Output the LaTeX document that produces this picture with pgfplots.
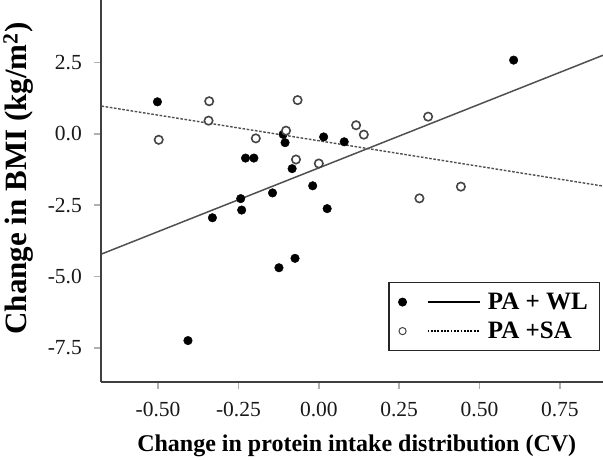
\documentclass[border=0pt]{standalone}
\usepackage{fontspec}
\setmainfont{Liberation Serif}
\usepackage{pgfplots}
\pgfplotsset{compat=1.18}
\definecolor{axisgrey}{HTML}{404040}
\definecolor{tickgrey}{HTML}{B0B0B0}
\definecolor{linegrey}{HTML}{505050}
\definecolor{opengrey}{HTML}{454545}
\begin{document}
\begin{tikzpicture}
\useasboundingbox (-101.5pt,-77.5pt) rectangle (501.5pt,381.5pt);
\begin{axis}[
  scale only axis,
  width=501.5pt, height=381.5pt,
  xmin=-0.676, xmax=0.884,
  ymin=-8.673, ymax=4.685,
  axis x line*=bottom, axis y line*=left,
  axis line style={color=axisgrey, line width=2pt},
  tick align=outside,
  major tick length=7pt,
  every tick/.style={color=tickgrey, line width=1.5pt},
  xtick={-0.5,-0.25,0,0.25,0.5,0.75},
  xticklabels={-0.50,-0.25,0.00,0.25,0.50,0.75},
  ytick={-7.5,-5,-2.5,0,2.5},
  yticklabels={-7.5,-5.0,-2.5,0.0,2.5},
  tick label style={font=\fontsize{21.5}{24}\selectfont, text=black!90},
  xticklabel style={anchor=north, inner sep=0pt, yshift=-13pt},
  yticklabel style={anchor=east, inner sep=0pt, xshift=-12.5pt},
  every axis x label/.style={at={(axis description cs:0.509,0)}, anchor=base, yshift=-70.2pt, font=\fontsize{24}{28}\selectfont\bfseries},
  every axis y label/.style={at={(axis description cs:0,0.532)}, anchor=base, rotate=90, yshift=74.8pt, font=\fontsize{31}{34}\selectfont\bfseries},
  xlabel={Change in protein intake distribution (CV)},
  ylabel={Change in BMI (kg/m\textsuperscript{2})},
  clip=false,
  legend style={at={(rel axis cs:0.994,0.261)}, anchor=north east,
    draw=black!85, line width=1.3pt, fill=white,
    inner xsep=9pt, inner ysep=8pt, row sep=6pt,
    font=\fontsize{25}{28}\selectfont\bfseries,
    nodes={inner sep=2.5pt},
    /tikz/every odd column/.append style={column sep=5pt}},
  legend cell align=left,
]
% regression lines
\addplot[forget plot, color=linegrey, line width=1.5pt] coordinates {(-0.676,-4.21) (0.884,2.75)};
\addplot[forget plot, color=linegrey, line width=1.4pt, dash pattern=on 2.6pt off 1.6pt] coordinates {(-0.676,0.97) (0.884,-1.83)};
% PA + WL (filled)
\addplot[only marks, mark=*, mark size=4.3pt, mark options={fill=black, draw=black},
  legend image code/.code={
    \fill[black] (4pt,0pt) circle (3.8pt);
    \draw[black, line width=1.4pt, solid] (29pt,0pt) -- (81pt,0pt);
  }] coordinates {
(-0.502,1.12) (-0.228,-0.85) (-0.202,-0.85) (-0.111,-0.02) (-0.105,-0.31)
(0.015,-0.11) (0.079,-0.28) (-0.083,-1.22) (-0.019,-1.82) (-0.144,-2.07)
(-0.243,-2.27) (-0.240,-2.67) (-0.331,-2.94) (0.026,-2.62) (-0.124,-4.69)
(-0.074,-4.36) (-0.407,-7.24) (0.606,2.58)
};
\addlegendentry{PA + WL}
% PA + SA (open)
\addplot[only marks, mark=*, mark size=4.2pt, mark options={fill=white, draw=opengrey, line width=1.6pt},
  legend image code/.code={
    \draw[opengrey, line width=1pt, fill=white] (4pt,0pt) circle (3.6pt);
    \draw[black, line width=1.8pt, dash pattern=on 1.8pt off 1.5pt] (29pt,0pt) -- (81pt,0pt);
  }] coordinates {
(-0.498,-0.21) (-0.341,1.14) (-0.343,0.46) (-0.066,1.18) (-0.196,-0.16)
(-0.102,0.11) (-0.071,-0.90) (0.000,-1.04) (0.116,0.30) (0.140,-0.03)
(0.340,0.60) (0.313,-2.26) (0.442,-1.85)
};
\addlegendentry{PA +SA}
\end{axis}
\end{tikzpicture}
\end{document}
